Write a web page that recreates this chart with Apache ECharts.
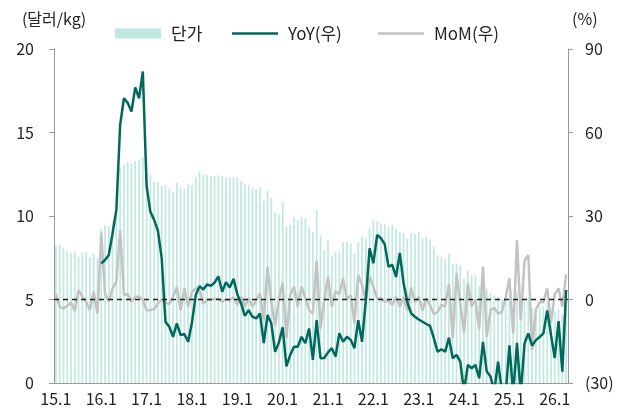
<!DOCTYPE html>
<html>
<head>
<meta charset="utf-8">
<script src="https://cdn.jsdelivr.net/npm/echarts@6/dist/echarts.min.js"></script>
<style>
  html, body { margin: 0; padding: 0; background: #fff; }
  #chart { width: 628px; height: 415px; }
</style>
</head>
<body>
<div id="chart"></div>
<script>
// Monthly unit price (USD/kg) with YoY and MoM change (%), Jan 2015 – Apr 2026
const years = [15, 16, 17, 18, 19, 20, 21, 22, 23, 24, 25, 26];
const lastYearMonths = 4;

const price = [
  // 2015
  8.2, 8.3, 8.1, 7.85, 7.75, 7.85, 7.55, 7.8, 7.85, 7.55, 7.75, 7.45,
  // 2016
  9.25, 9.45, 9.4, 9.7, 10.2, 12.85, 13.05, 13.25, 13.15, 13.3, 13.35, 13.5,
  // 2017
  13.05, 12.45, 12.05, 12.0, 11.8, 11.85, 11.65, 11.45, 12.0, 11.7, 11.65, 11.9,
  // 2018
  11.85, 12.35, 12.65, 12.5, 12.45, 12.4, 12.4, 12.45, 12.4, 12.3, 12.3, 12.3,
  // 2019
  12.3, 12.1, 11.9, 11.85, 11.7, 11.6, 11.7, 10.9, 11.5, 11.1, 10.2, 10.1,
  // 2020
  10.85, 9.35, 9.45, 9.95, 9.75, 9.95, 9.85, 9.35, 9.05, 10.35, 8.85, 7.95,
  // 2021
  8.55, 7.65, 7.85, 7.85, 8.45, 8.45, 8.35, 7.75, 8.45, 8.75, 8.65, 9.25,
  // 2022
  9.75, 9.65, 9.55, 9.55, 9.35, 9.45, 9.25, 9.05, 9.0, 8.65, 9.0, 8.9,
  // 2023
  9.05, 8.65, 8.75, 8.55, 8.15, 7.65, 7.55, 7.45, 7.75, 7.15, 7.15, 7.05,
  // 2024
  6.25, 6.75, 6.45, 6.45, 5.8, 6.5, 5.65, 5.4, 5.25, 5.15, 5.0, 5.0,
  // 2025
  5.3, 4.5, 5.4, 4.4, 4.9, 5.1, 4.5, 4.55, 4.6, 4.6, 4.8, 4.4,
  // 2026
  4.3, 4.4, 4.1, 4.6
];

const yoy = [
  // 2015
  null, null, null, null, null, null, null, null, null, null, null, null,
  // 2016
  13.0, 14.2, 16.0, 23.8, 32.2, 62.7, 72.3, 70.7, 67.5, 76.2, 72.3, 81.9,
  // 2017
  40.8, 31.5, 28.6, 24.7, 14.8, -8.0, -9.8, -13.4, -8.6, -12.8, -12.4, -15.2,
  // 2018
  -8.3, 1.5, 4.8, 3.6, 5.4, 4.9, 6.1, 8.3, 2.8, 6.2, 4.3, 7.4,
  // 2019
  1.9, -1.4, -5.9, -3.8, -6.2, -6.8, -5.0, -15.7, -5.6, -8.6, -18.8, -15.5,
  // 2020
  -10.0, -24.0, -19.9, -17.0, -17.0, -13.4, -15.7, -10.4, -21.7, -7.4, -21.1, -21.0,
  // 2021
  -19.0, -17.5, -20.5, -12.1, -15.2, -13.4, -14.5, -17.5, -7.4, -15.2, -0.3, 18.4,
  // 2022
  13.0, 23.2, 22.0, 19.9, 11.8, 12.4, 8.1, 16.7, 5.8, -1.0, -5.0, -6.2,
  // 2023
  -7.2, -8.0, -8.8, -9.5, -13.9, -18.8, -17.9, -18.8, -13.7, -21.1, -19.9, -22.3,
  // 2024
  -33.0, -23.5, -24.7, -23.5, -28.3, -15.2, -25.9, -27.7, -33.0, -22.3, -33.0, -34.0,
  // 2025
  -16.5, -34.0, -15.6, -34.0, -15.7, -12.2, -16.6, -14.6, -13.5, -12.1, -3.9, -12.7,
  // 2026
  -21.0, -7.8, -25.9, 3.4
];

const mom = [
  // 2015
  1.9, -2.6, -3.2, -2.3, -1.1, -4.1, 3.4, 1.0, -0.8, -3.8, 2.8, -5.0,
  // 2016
  24.0, 2.2, -0.8, 4.0, 6.4, 25.0, 1.6, 2.0, -0.8, 1.0, 1.0, -0.2,
  // 2017
  -4.0, -3.8, -3.5, -1.4, 0.0, -1.1, -1.6, 1.0, 4.6, -3.8, 4.0, -2.6,
  // 2018
  2.8, 4.0, 3.4, -1.6, 0.0, -0.2, 0.2, 0.4, -0.8, 0.0, -0.4, 0.8,
  // 2019
  -2.0, 1.0, -2.6, 0.5, -2.6, -0.3, 2.2, -7.4, 11.7, -1.0, -9.5, 0.0,
  // 2020
  6.0, -13.9, 1.6, 4.6, -2.6, 4.6, 0.5, -3.8, -5.0, 14.0, -10.5, -0.2,
  // 2021
  8.2, -2.6, 3.0, 2.0, 7.6, 0.0, 1.5, -8.6, 8.8, 5.2, -0.2, 8.2,
  // 2022
  4.6, 0.4, 0.5, -0.8, -0.3, -2.0, 1.0, -2.6, 1.0, -4.0, 4.3, -1.0,
  // 2023
  1.0, -4.0, 0.4, -2.0, -5.3, -4.5, -2.0, -2.5, 5.5, -14.0, 9.4, -1.5,
  // 2024
  -12.0, 5.8, -2.5, 0.0, -10.7, 11.8, -13.4, -3.8, -3.0, -5.0, -4.5, 0.7,
  // 2025
  7.6, -12.1, 21.4, -7.5, 14.0, 16.0, -18.1, -3.5, -1.0, -1.0, 4.0, -8.3,
  // 2026
  2.0, 4.0, -2.6, 9.0
];

const leftTicks = { min: 0, max: 20, interval: 5 };
const rightTicks = { min: -30, max: 90, interval: 30 };

// month labels such as "15.1", "15.2", ...
const months = [];
years.forEach((y, k) => {
  const n = k === years.length - 1 ? lastYearMonths : 12;
  for (let m = 1; m <= n; m++) months.push(y + '.' + m);
});

const FONT = '"Noto Sans CJK KR", "Noto Sans", sans-serif';
const TEXT = '#222';
const AXIS = '#9a9a9a';
const BAR = '#bfe8e1';
const YOY = '#00695c';
const MOM = '#c3c3c3';
const LINE_ICON = 'path://M0 0H48V2.6H0Z';
const showJan = (i) => i % 12 === 0;

// one legend block per series so each key sits at its own spot
const legendBlock = (name, icon, left) => ({
  data: [{ name, icon }],
  left, top: 20,
  itemWidth: 46, itemHeight: 10,
  textStyle: { fontFamily: FONT, fontSize: 17, color: TEXT, padding: [0, 0, 0, 5] }
});

const chart = echarts.init(document.getElementById('chart'), null, { renderer: 'canvas' });
chart.setOption({
  animation: false,
  backgroundColor: '#fff',
  textStyle: { fontFamily: FONT },
  grid: { left: 54, right: 60, top: 49, bottom: 32, containLabel: false, outerBoundsMode: 'none' },
  legend: [
    legendBlock('단가', 'rect', 110),
    legendBlock('YoY(우)', LINE_ICON, 227),
    legendBlock('MoM(우)', LINE_ICON, 373)
  ],
  xAxis: {
    type: 'category',
    data: months,
    boundaryGap: true,
    axisLine: { lineStyle: { color: AXIS, width: 1 } },
    axisTick: { interval: showJan, length: 5, lineStyle: { color: AXIS } },
    axisLabel: { interval: showJan, fontFamily: FONT, fontSize: 16, color: TEXT, margin: 8 },
    splitLine: { show: false }
  },
  yAxis: [
    {
      type: 'value', position: 'left',
      min: leftTicks.min, max: leftTicks.max, interval: leftTicks.interval,
      name: '(달러/kg)', nameLocation: 'end', nameGap: 22,
      nameTextStyle: { fontFamily: FONT, fontSize: 16, color: TEXT, align: 'center' },
      axisLine: { show: true, lineStyle: { color: AXIS } },
      axisTick: { show: true, length: 5, lineStyle: { color: AXIS } },
      axisLabel: { fontFamily: FONT, fontSize: 16, color: TEXT, margin: 20 },
      splitLine: { show: false }
    },
    {
      type: 'value', position: 'right',
      min: rightTicks.min, max: rightTicks.max, interval: rightTicks.interval,
      name: '(%)', nameLocation: 'end', nameGap: 22,
      nameTextStyle: { fontFamily: FONT, fontSize: 16, color: TEXT, align: 'left', padding: [0, 0, 0, 4] },
      axisLine: { show: true, lineStyle: { color: AXIS } },
      axisTick: { show: true, length: 5, lineStyle: { color: AXIS } },
      axisLabel: {
        fontFamily: FONT, fontSize: 16, color: TEXT, margin: 17,
        formatter: (v) => (v < 0 ? '(' + (-v) + ')' : String(v))
      },
      splitLine: { show: false }
    }
  ],
  series: [
    {
      name: '단가', type: 'bar', yAxisIndex: 0,
      data: price, barWidth: '45%',
      itemStyle: { color: BAR },
      z: 1
    },
    {
      name: 'MoM(우)', type: 'line', yAxisIndex: 1,
      data: mom, symbol: 'none', showSymbol: false,
      lineStyle: { color: MOM, width: 2.5 },
      itemStyle: { color: MOM },
      clip: true, z: 3
    },
    {
      name: 'YoY(우)', type: 'line', yAxisIndex: 1,
      data: yoy, symbol: 'none', showSymbol: false,
      lineStyle: { color: YOY, width: 2.5 },
      itemStyle: { color: YOY },
      clip: true, z: 4,
      markLine: {
        silent: true, symbol: 'none', label: { show: false },
        lineStyle: { color: '#222', type: [5, 4], width: 1.3 },
        data: [{ yAxis: 0 }],
        z: 6
      }
    }
  ]
});
</script>
</body>
</html>
